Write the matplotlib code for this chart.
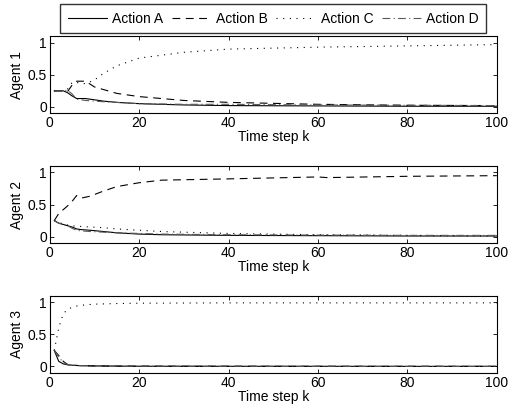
import matplotlib
matplotlib.use('Agg')
import matplotlib.pyplot as plt

plt.rcParams['font.family'] = ['Liberation Sans', 'DejaVu Sans']
plt.rcParams['font.size'] = 10

actions = ['Action A', 'Action B', 'Action C', 'Action D']
styles = ['-', (0, (7, 5)), (0, (1, 5)), (0, (7, 3, 1, 3))]
colors = ['black', 'black', 'black', '0.35']

# agent 1
k1 = [1, 3, 4, 5, 6, 8, 10, 12, 15, 20, 30, 40, 60, 80, 100]
a1_A = [0.25, 0.25, 0.22, 0.17, 0.13, 0.13, 0.11, 0.09, 0.07, 0.05, 0.03, 0.02, 0.015, 0.01, 0.01]
a1_B = [0.25, 0.25, 0.24, 0.34, 0.40, 0.40, 0.31, 0.27, 0.21, 0.16, 0.10, 0.07, 0.04, 0.025, 0.02]
a1_C = [0.25, 0.25, 0.28, 0.38, 0.38, 0.36, 0.42, 0.52, 0.64, 0.76, 0.85, 0.90, 0.93, 0.95, 0.97]
a1_D = [0.25, 0.25, 0.26, 0.20, 0.12, 0.10, 0.09, 0.08, 0.07, 0.05, 0.04, 0.04, 0.03, 0.025, 0.02]

# agent 2
k2 = [1, 2, 3, 4, 5, 6, 7, 9, 12, 15, 20, 25, 40, 60, 62, 80, 100]
a2_A = [0.25, 0.21, 0.19, 0.17, 0.15, 0.12, 0.11, 0.10, 0.08, 0.06, 0.04, 0.03, 0.02, 0.015, 0.015, 0.01, 0.01]
a2_B = [0.25, 0.36, 0.42, 0.48, 0.55, 0.64, 0.60, 0.63, 0.71, 0.78, 0.84, 0.88, 0.90, 0.93, 0.92, 0.94, 0.95]
a2_C = [0.25, 0.22, 0.20, 0.18, 0.17, 0.16, 0.16, 0.15, 0.14, 0.12, 0.10, 0.08, 0.05, 0.03, 0.03, 0.02, 0.01]
a2_D = [0.25, 0.21, 0.19, 0.17, 0.13, 0.10, 0.09, 0.08, 0.07, 0.06, 0.05, 0.04, 0.03, 0.025, 0.025, 0.02, 0.02]

# agent 3
k3 = [1, 2, 3, 4, 5, 6, 8, 10, 15, 20, 40, 60, 80, 100]
a3_A = [0.25, 0.08, 0.04, 0.025, 0.02, 0.015, 0.01, 0.008, 0.005, 0.003, 0.002, 0.002, 0.001, 0.001]
a3_B = [0.25, 0.17, 0.08, 0.03, 0.02, 0.015, 0.01, 0.008, 0.005, 0.004, 0.003, 0.002, 0.002, 0.002]
a3_C = [0.25, 0.60, 0.82, 0.89, 0.92, 0.94, 0.96, 0.97, 0.98, 0.985, 0.99, 0.99, 0.99, 0.99]
a3_D = [0.25, 0.15, 0.06, 0.03, 0.02, 0.015, 0.01, 0.008, 0.005, 0.004, 0.003, 0.002, 0.002, 0.002]

agents = [
    ('Agent 1', k1, [a1_A, a1_B, a1_C, a1_D]),
    ('Agent 2', k2, [a2_A, a2_B, a2_C, a2_D]),
    ('Agent 3', k3, [a3_A, a3_B, a3_C, a3_D]),
]

fig = plt.figure(figsize=(5.08, 4.12), dpi=100)
bottoms = [0.725, 0.410, 0.095]

for (name, k, series), b in zip(agents, bottoms):
    ax = fig.add_axes([0.098, b, 0.88, 0.187])
    for vals, ls, c, lab in zip(series, styles, colors, actions):
        ax.plot(k, vals, linestyle=ls, color=c, linewidth=0.8, label=lab)
    ax.set_xlim(0, 100)
    ax.set_ylim(-0.1, 1.1)
    ax.set_xticks([0, 20, 40, 60, 80, 100])
    ax.set_yticks([0, 0.5, 1])
    ax.set_yticklabels(['0', '0.5', '1'])
    ax.set_xlabel('Time step k', labelpad=0)
    ax.set_ylabel(name, labelpad=3)
    ax.tick_params(direction='in', top=True, right=True, length=3, width=0.6, pad=2)
    for sp in ax.spines.values():
        sp.set_linewidth(0.8)
    if b == bottoms[0]:
        leg = ax.legend(loc='lower center', bbox_to_anchor=(0.5, 1.0), ncol=4,
                        frameon=True, fancybox=False, edgecolor='black',
                        handlelength=2.85, columnspacing=0.6, handletextpad=0.35,
                        borderpad=0.55, borderaxespad=0.2)
        leg.get_frame().set_linewidth(1.0)

fig.savefig('out.png', dpi=100)
